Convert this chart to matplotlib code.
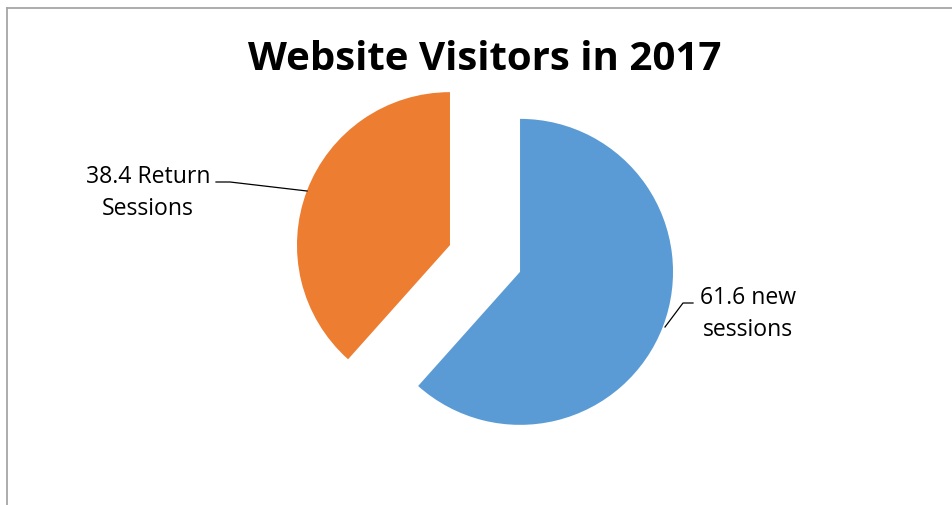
import matplotlib
matplotlib.use("Agg")
import matplotlib.pyplot as plt
from matplotlib.lines import Line2D

# Data
categories = ["new sessions", "Return Sessions"]
values = [61.6, 38.4]
colors = ["#5B9BD5", "#ED7D31"]
title = "Website Visitors in 2017"

W, H = 952, 506
fig = plt.figure(figsize=(W / 100, H / 100), dpi=100)
fig.patch.set_facecolor("white")

# pixel geometry of the pie
CX, CY, R = 485.0, 259.5, 153.0
xl, yl = 2.0, 1.6
ax = fig.add_axes([(CX - xl * R) / W, (H - CY - yl * R) / H, 2 * xl * R / W, 2 * yl * R / H])
ax.pie(values, colors=colors, startangle=90, counterclock=False,
       explode=[0.245, 0.245], wedgeprops=dict(linewidth=0))
ax.set_xlim(-xl, xl)
ax.set_ylim(-yl, yl)
ax.set_aspect("auto")
ax.axis("off")

def d(px, py):
    return ((px - CX) / R, (CY - py) / R)

font = "Open Sans"
labels = [f"{values[0]} new\nsessions", f"{values[1]} Return\nSessions"]

# leader lines
for pts in ([(665, 328), (683, 304), (693, 304)],
            [(307, 192), (230, 183), (216, 183)]):
    xs, ys = zip(*[d(*p) for p in pts])
    ax.add_line(Line2D(xs, ys, color="black", linewidth=0.9, clip_on=False))

ax.text(*d(748, 314), labels[0], ha="center", va="center", fontsize=16.6,
        family=font, linespacing=1.42, color="black")
ax.text(*d(148, 193), labels[1], ha="center", va="center", fontsize=16.6,
        family=font, linespacing=1.42, color="black")

fig.text(485 / W, 1 - 60 / H, title, ha="center", va="center", fontsize=29,
         fontweight="bold", family=font, color="black")

# chart border (left and top visible)
border = "#A6A6A6"
fig.add_artist(Line2D([6.5 / W, 6.5 / W], [0, 1 - 8.5 / H], transform=fig.transFigure,
                      color=border, linewidth=1.3))
fig.add_artist(Line2D([6.5 / W, 1], [1 - 8.5 / H, 1 - 8.5 / H], transform=fig.transFigure,
                      color=border, linewidth=1.3))

fig.savefig("out.png", dpi=100, facecolor="white")
